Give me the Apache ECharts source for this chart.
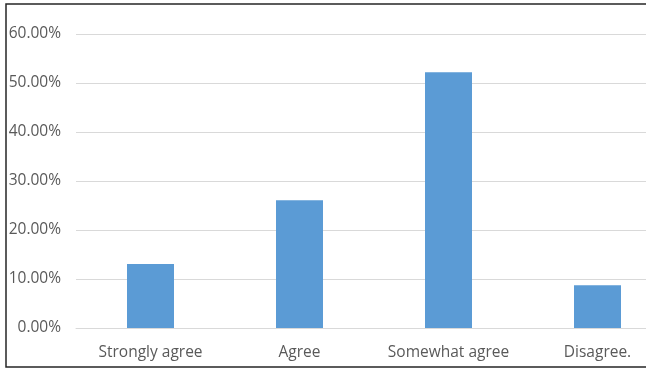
<!DOCTYPE html>
<html>
<head>
<meta charset="utf-8">
<script src="https://cdn.jsdelivr.net/npm/echarts@6/dist/echarts.min.js"></script>
<style>
  html, body { margin: 0; padding: 0; background: #ffffff; overflow: hidden; }
  #wrap { width: 646px; height: 372px; overflow: hidden; }
  #chart { width: 700px; height: 372px; }
</style>
</head>
<body>
<div id="wrap"><div id="chart"></div></div>
<script>
// Survey responses (share of respondents, %)
const categories = ['Strongly agree', 'Agree', 'Somewhat agree', 'Disagree.'];
const shares = [13.04, 26.09, 52.17, 8.70];
const yTicks = { min: 0, max: 60, interval: 10 };

const chart = echarts.init(document.getElementById('chart'), null, { renderer: 'canvas' });

const fontFamily = '"Open Sans", sans-serif';

chart.setOption({
  animation: false,
  backgroundColor: '#ffffff',
  graphic: [{
    type: 'rect',
    shape: { x: 6, y: 4, width: 720, height: 363 },
    style: { fill: 'none', stroke: '#262626', lineWidth: 1.5 },
    silent: true,
    z: 10
  }],
  grid: { left: 76, top: 34, width: 596, height: 294, containLabel: false },
  xAxis: {
    type: 'category',
    data: categories,
    axisLine: { show: true, lineStyle: { color: '#D9D9D9', width: 1 } },
    axisTick: { show: false },
    axisLabel: {
      interval: 0, hideOverlap: false,
      color: '#595959', fontSize: 15.5, fontFamily: fontFamily, margin: 17
    }
  },
  yAxis: {
    type: 'value',
    min: yTicks.min,
    max: yTicks.max,
    interval: yTicks.interval,
    axisLine: { show: false },
    axisTick: { show: false },
    splitLine: { lineStyle: { color: '#D9D9D9', width: 1 } },
    axisLabel: {
      color: '#595959', fontSize: 15.5, fontFamily: fontFamily, margin: 15,
      padding: [3, 0, 0, 0],
      formatter: v => v.toFixed(2) + '%'
    }
  },
  series: [{
    type: 'bar',
    data: shares,
    barWidth: 47,
    itemStyle: { color: '#5B9BD5' }
  }]
});
</script>
</body>
</html>
